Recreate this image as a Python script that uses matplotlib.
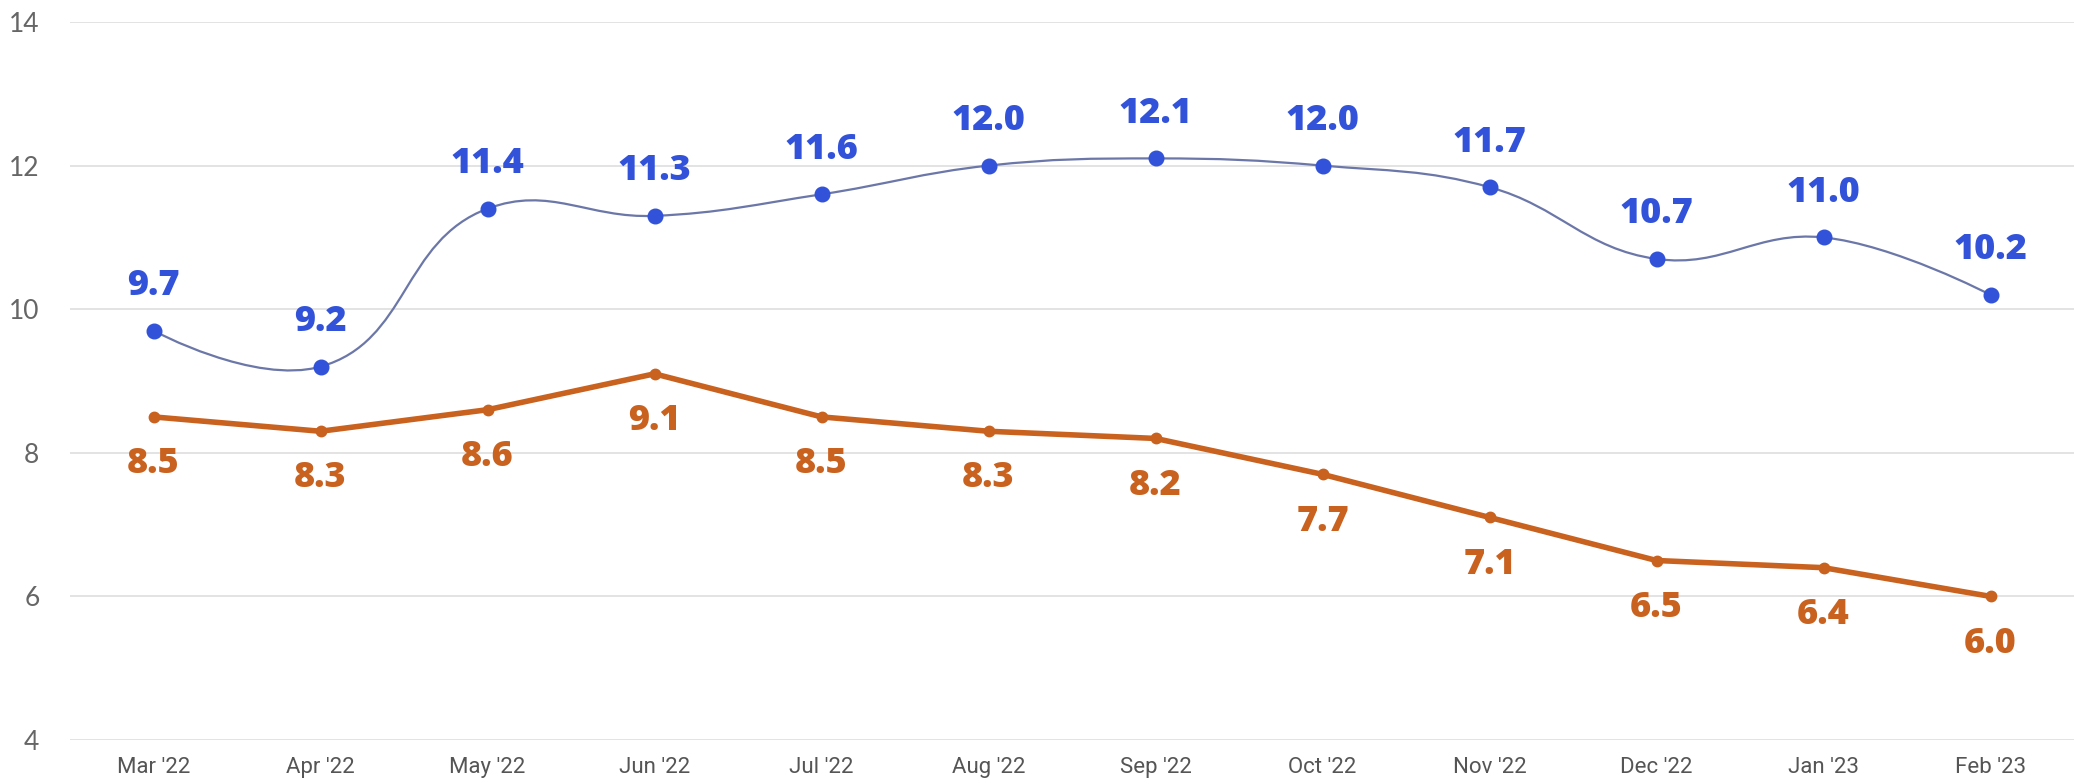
import math
import numpy as np
import matplotlib
matplotlib.use("Agg")
import matplotlib.pyplot as plt
from matplotlib.path import Path
from matplotlib.patches import PathPatch

months = ["Mar '22", "Apr '22", "May '22", "Jun '22", "Jul '22", "Aug '22",
          "Sep '22", "Oct '22", "Nov '22", "Dec '22", "Jan '23", "Feb '23"]
blue_vals = [9.7, 9.2, 11.4, 11.3, 11.6, 12.0, 12.1, 12.0, 11.7, 10.7, 11.0, 10.2]
orange_vals = [8.5, 8.3, 8.6, 9.1, 8.5, 8.3, 8.2, 7.7, 7.1, 6.5, 6.4, 6.0]
y_ticks = [4, 6, 8, 10, 12, 14]

BLUE = "#3152d9"
BLUE_LINE = "#6b77a8"
ORANGE = "#c9611f"

W, H = 2074, 784
fig = plt.figure(figsize=(W / 100, H / 100), dpi=100)
ax = fig.add_axes([70 / W, 44 / H, 1 - 70 / W, 1 - 44 / H - 22 / H])
ax.set_xlim(-0.5, len(months) - 0.5)
ax.set_ylim(4, 14)

for s in ax.spines.values():
    s.set_visible(False)
ax.set_yticks(y_ticks)
ax.set_yticklabels([str(t) for t in y_ticks], fontsize=19, color="#666666", family="Lato")
ax.set_xticks(range(len(months)))
ax.set_xticklabels(months, fontsize=16, color="#555555", family="Roboto")
ax.tick_params(axis="y", length=0, pad=22)
ax.tick_params(axis="x", length=0, pad=12)
ax.grid(axis="y", color="#e3e3e3", linewidth=1.4)
ax.set_axisbelow(True)

x = np.arange(len(months))

# Highcharts-like spline for the blue series, computed in display space
pts = ax.transData.transform(np.column_stack([x, blue_vals]))
smoothing = 1.5
denom = smoothing + 1
n = len(pts)
left = [None] * n
right = [None] * n
for i in range(1, n - 1):
    px, py = pts[i]
    lx, ly = pts[i - 1]
    nx, ny = pts[i + 1]
    lcx = (smoothing * px + lx) / denom
    lcy = (smoothing * py + ly) / denom
    rcx = (smoothing * px + nx) / denom
    rcy = (smoothing * py + ny) / denom
    dl = math.hypot(lcx - px, lcy - py)
    dr = math.hypot(rcx - px, rcy - py)
    la = math.atan2(lcx - px, lcy - py)
    ra = math.atan2(rcx - px, rcy - py)
    ja = math.pi / 2 + (la + ra) / 2
    if abs(la - ja) > math.pi / 2:
        ja -= math.pi
    lcx = px + dl * math.sin(ja)
    lcy = py + dl * math.cos(ja)
    rcx = px + dr * math.sin(math.pi + ja)
    rcy = py + dr * math.cos(math.pi + ja)
    left[i] = (lcx, lcy)
    right[i] = (rcx, rcy)

verts = [tuple(pts[0])]
codes = [Path.MOVETO]
for i in range(1, n):
    c1 = right[i - 1] if right[i - 1] is not None else tuple(pts[i - 1])
    c2 = left[i] if left[i] is not None else tuple(pts[i])
    verts += [c1, c2, tuple(pts[i])]
    codes += [Path.CURVE4] * 3
verts_data = ax.transData.inverted().transform(np.array(verts))
patch = PathPatch(Path(verts_data, codes), facecolor="none", edgecolor=BLUE_LINE,
                  linewidth=1.6, transform=ax.transData, zorder=3)
ax.add_patch(patch)
ax.plot(x, blue_vals, linestyle="none", marker="o", markersize=10.5,
        color=BLUE, zorder=4)

ax.plot(x, orange_vals, color=ORANGE, linewidth=4, marker="o", markersize=7.5,
        zorder=3, solid_joinstyle="round")

for xi, v in zip(x, blue_vals):
    ax.annotate(f"{v:.1f}", (xi, v), xytext=(0, 32), textcoords="offset points",
                ha="center", va="center", fontsize=26, fontweight=800,
                color=BLUE, family="Open Sans", zorder=5)
for xi, v in zip(x, orange_vals):
    ax.annotate(f"{v:.1f}", (xi, v), xytext=(0, -34), textcoords="offset points",
                ha="center", va="center", fontsize=26, fontweight=800,
                color=ORANGE, family="Open Sans", zorder=5)

fig.savefig("out.png", dpi=100, facecolor="white")
